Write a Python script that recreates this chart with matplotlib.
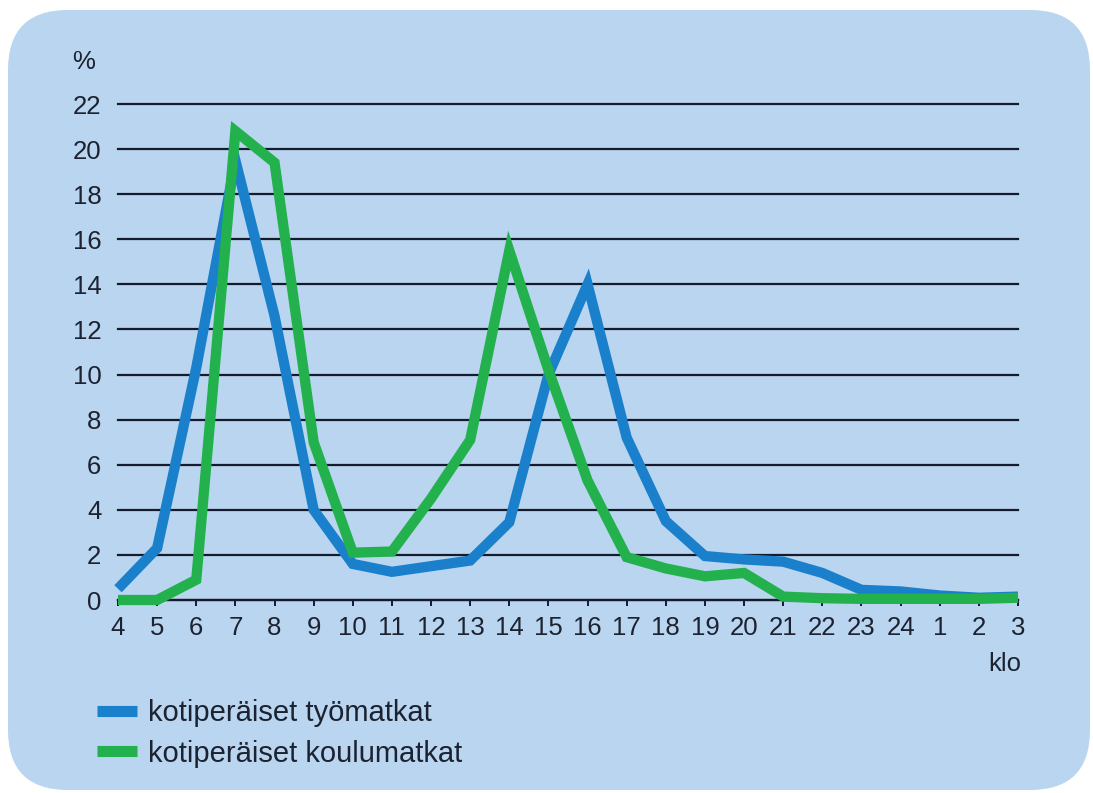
import matplotlib.pyplot as plt
from matplotlib.patches import FancyBboxPatch

# kellonajat (klo) ja osuudet (%)
tunnit = ['4', '5', '6', '7', '8', '9', '10', '11', '12', '13', '14', '15',
          '16', '17', '18', '19', '20', '21', '22', '23', '24', '1', '2', '3']
tyomatkat = [0.5, 2.3, 10.3, 19.5, 12.6, 4.0, 1.6, 1.25, 1.5, 1.75, 3.45, 10.0,
             14.0, 7.2, 3.5, 1.95, 1.8, 1.7, 1.2, 0.45, 0.38, 0.2, 0.1, 0.15]
koulumatkat = [0.0, 0.0, 0.9, 20.8, 19.4, 7.0, 2.1, 2.15, 4.5, 7.1, 15.5, 10.2,
               5.3, 1.9, 1.4, 1.05, 1.2, 0.15, 0.08, 0.05, 0.05, 0.05, 0.05, 0.1]
nimet = ['kotiperäiset työmatkat', 'kotiperäiset koulumatkat']
y_ticks = list(range(0, 23, 2))

sininen = '#1b80cc'
vihrea = '#22b14c'
tausta = '#bad5ef'
teksti = '#1c2230'

plt.rcParams['font.family'] = ['Liberation Sans', 'DejaVu Sans']

fig = plt.figure(figsize=(10.93, 7.93), dpi=100)
fig.patch.set_facecolor('white')

# pyöristetty tausta
bg = fig.add_axes([0, 0, 1, 1])
bg.set_xlim(0, 1093)
bg.set_ylim(793, 0)
bg.axis('off')
bg.add_patch(FancyBboxPatch((8, 10), 1082, 780,
                            boxstyle='round,pad=0,rounding_size=60',
                            facecolor=tausta, edgecolor='none'))

ax = fig.add_axes([118/1093, 193/793, 900/1093, 496/793])
ax.set_facecolor('none')
x = list(range(len(tunnit)))

ax.set_ylim(0, 22)
ax.set_xlim(0, len(tunnit) - 1)
ax.set_yticks(y_ticks)
ax.set_xticks(x)
ax.set_xticklabels(tunnit)
ax.grid(axis='y', color='#151a2c', linewidth=1.6)
for gl in ax.get_ygridlines():
    gl.set_clip_on(False)
ax.set_axisbelow(True)

l1, = ax.plot(x, tyomatkat, color=sininen, lw=7.4, solid_joinstyle='miter',
              solid_capstyle='butt', clip_on=False, label=nimet[0], zorder=3)
l2, = ax.plot(x, koulumatkat, color=vihrea, lw=7.4, solid_joinstyle='miter',
              solid_capstyle='butt', clip_on=False, label=nimet[1], zorder=4)

for s in ['left', 'right', 'top']:
    ax.spines[s].set_visible(False)
ax.spines['bottom'].set_color('#151a2c')
ax.spines['bottom'].set_linewidth(1.6)
ax.tick_params(axis='y', length=0, pad=12, labelsize=18.5, labelcolor=teksti)
ax.tick_params(axis='x', length=4.5, width=1.4, color='#151a2c', pad=7,
               labelsize=18.5, labelcolor=teksti, direction='out')

fig.text(84/1093, 1 - 62/793, '%', fontsize=18.5, color=teksti, ha='center', va='center')
fig.text(1021/1093, 1 - 664/793, 'klo', fontsize=18.5, color=teksti, ha='right', va='center')

leg = ax.legend(handles=[l1, l2], loc='upper left', frameon=False,
                bbox_to_anchor=(97/1093, 1 - 699/793), bbox_transform=fig.transFigure,
                fontsize=21, handlelength=1.37, handletextpad=0.38, labelspacing=0.43,
                borderpad=0, borderaxespad=0, labelcolor=teksti)
for h in leg.legend_handles:
    h.set_linewidth(8)

fig.savefig('out.png', dpi=100, facecolor='white')
